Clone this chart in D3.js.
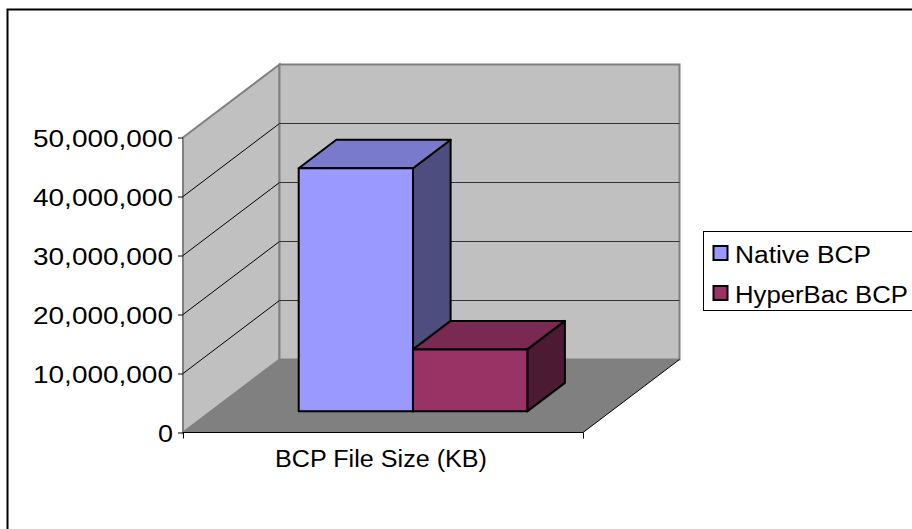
<!DOCTYPE html>
<html>
<head>
<meta charset="utf-8">
<script src="https://cdn.jsdelivr.net/npm/d3@7"></script>
<style>
  html, body { margin: 0; padding: 0; background: #fff; overflow: hidden; }
  text { font-family: "Liberation Sans", Arial, sans-serif; fill: #000; }
</style>
</head>
<body>
<svg id="chart" width="912" height="529"></svg>
<script>
// Data
const categories = ["BCP File Size (KB)"];
const seriesNames = ["Native BCP", "HyperBac BCP"];
const seriesValues = [41200000, 10500000];
const tickValues = [0, 10000000, 20000000, 30000000, 40000000, 50000000];

const seriesColors = [
  { front: "#9999ff", top: "#7a7acc", side: "#4d4d80" },
  { front: "#993366", top: "#7a2952", side: "#4d1a33" }
];

const svg = d3.select("#chart");

// Front plane of the 3D box, plus the depth offset
const x0 = 183, x1 = 583, y0 = 432.5, y1 = 137.5;
const depthX = d3.scaleLinear().domain([0, 1]).range([0, 96.5]);
const depthY = d3.scaleLinear().domain([0, 1]).range([0, -73]);

const y = d3.scaleLinear().domain([0, 50000000]).range([y0, y1]);
const xCat = d3.scaleBand().domain(categories).range([x0, x1]);
const xSeries = d3.scaleBand().domain(seriesNames)
  .range([x0 + 2, x1 + 2]).paddingInner(0).paddingOuter(0.75);

// project a point: px on the front plane, value, depth 0..1
const pt = (px, v, d) => [px + depthX(d), y(v) + depthY(d)];
const poly = pts => "M" + pts.map(p => p.join(",")).join("L") + "Z";

// Outer frame, runs off the right and bottom of the picture
svg.append("rect")
  .attr("x", 7.5).attr("y", 9.5)
  .attr("width", 1000).attr("height", 1000)
  .attr("fill", "#fff").attr("stroke", "#000").attr("stroke-width", 2);

const vMax = y.domain()[1];

// Walls and floor
svg.append("path")
  .attr("d", poly([pt(x0, 0, 0), pt(x0, vMax, 0), pt(x0, vMax, 1), pt(x0, 0, 1)]))
  .attr("fill", "#c0c0c0").attr("stroke", "#808080").attr("stroke-width", 2);
svg.append("path")
  .attr("d", poly([pt(x0, 0, 1), pt(x0, vMax, 1), pt(x1, vMax, 1), pt(x1, 0, 1)]))
  .attr("fill", "#c0c0c0").attr("stroke", "#808080").attr("stroke-width", 2);

// Gridlines on both walls
const grid = svg.append("g");
tickValues.filter(t => t > 0 && t < vMax).forEach(t => {
  grid.append("path")
    .attr("d", d3.line()([pt(x0, t, 0), pt(x0, t, 1)]))
    .attr("fill", "none").attr("stroke", "#000").attr("stroke-width", 1);
  grid.append("path")
    .attr("d", d3.line()([pt(x0, t, 1), pt(x1, t, 1)]))
    .attr("fill", "none").attr("stroke", "#333").attr("stroke-width", 1);
});

svg.append("path")
  .attr("d", poly([pt(x0, 0, 0), pt(x0, 0, 1), pt(x1, 0, 1), pt(x1, 0, 0)]))
  .attr("fill", "#808080");
svg.append("path")
  .attr("d", d3.line()([pt(x0, 0, 0), pt(x1, 0, 0), pt(x1, 0, 1)]))
  .attr("fill", "none").attr("stroke", "#000").attr("stroke-width", 1);

// Bars sit between about 0.3 and 0.7 of the depth
const dFront = 0.29, dBack = 0.68;
seriesNames.forEach((name, i) => {
  const a = xSeries(name), b = a + xSeries.bandwidth(), v = seriesValues[i];
  const c = seriesColors[i];
  const g = svg.append("g").attr("stroke", "#000").attr("stroke-width", 2).attr("stroke-linejoin", "round");
  g.append("path").attr("fill", c.side)
    .attr("d", poly([pt(b, 0, dFront), pt(b, v, dFront), pt(b, v, dBack), pt(b, 0, dBack)]));
  g.append("path").attr("fill", c.top)
    .attr("d", poly([pt(a, v, dFront), pt(a, v, dBack), pt(b, v, dBack), pt(b, v, dFront)]));
  g.append("path").attr("fill", c.front)
    .attr("d", poly([pt(a, 0, dFront), pt(a, v, dFront), pt(b, v, dFront), pt(b, 0, dFront)]));
});

// Value axis
const yAxis = svg.append("g")
  .attr("transform", `translate(${x0},0)`)
  .call(d3.axisLeft(y).tickValues(tickValues).tickFormat(d3.format(",")).tickSize(5).tickPadding(5));
yAxis.select(".domain").remove();
yAxis.selectAll("line").attr("stroke", "#000").attr("stroke-width", 1);
yAxis.selectAll("text")
  .attr("font-size", 23)
  .attr("dy", "0.41em")
  .style("font-family", '"Liberation Sans", Arial, sans-serif')
  .attr("lengthAdjust", "spacingAndGlyphs")
  .attr("textLength", d => d === 0 ? 15 : 140);

// Category axis
const xAxis = svg.append("g")
  .attr("transform", `translate(-2,${y0})`)
  .call(d3.axisBottom(xCat).tickSize(0).tickPadding(18));
xAxis.select(".domain").remove();
xAxis.selectAll("text")
  .attr("font-size", 23)
  .style("font-family", '"Liberation Sans", Arial, sans-serif')
  .attr("lengthAdjust", "spacingAndGlyphs")
  .attr("textLength", 212);
[x0, x1].forEach(px => {
  svg.append("line").attr("x1", px + 0.5).attr("x2", px + 0.5)
    .attr("y1", y0).attr("y2", y0 + 6)
    .attr("stroke", "#000").attr("stroke-width", 1);
});

// Legend, cut off by the right edge like the reference
const legend = svg.append("g").attr("transform", "translate(703.5,231.5)");
legend.append("rect").attr("width", 240).attr("height", 79)
  .attr("fill", "#fff").attr("stroke", "#000").attr("stroke-width", 1);
const legendWidths = [136, 173];
seriesNames.forEach((name, i) => {
  const row = legend.append("g").attr("transform", `translate(0,${14.5 + i * 40})`);
  row.append("rect").attr("x", 10).attr("width", 14).attr("height", 14)
    .attr("fill", seriesColors[i].front).attr("stroke", "#000").attr("stroke-width", 2);
  row.append("text").attr("x", 31.5).attr("y", 16.5)
    .attr("font-size", 23)
    .attr("lengthAdjust", "spacingAndGlyphs")
    .attr("textLength", legendWidths[i])
    .text(name);
});
</script>
</body>
</html>
